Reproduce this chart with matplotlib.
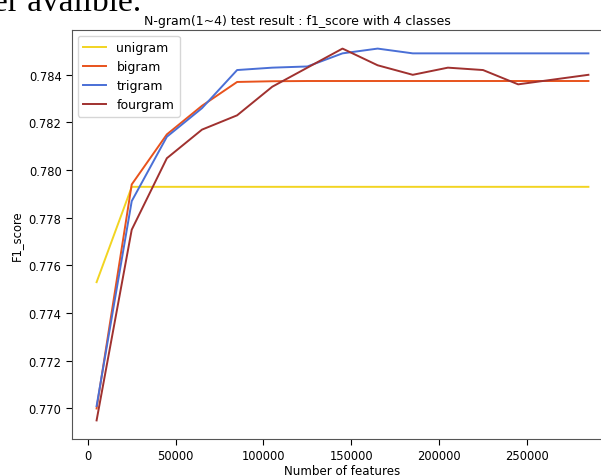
import matplotlib
matplotlib.use("Agg")
import matplotlib.pyplot as plt

features = [5000, 25000, 45000, 65000, 85000, 105000, 125000, 145000,
            165000, 185000, 205000, 225000, 245000, 265000, 285000]
unigram = [0.7753, 0.7793, 0.7793, 0.7793, 0.7793, 0.7793, 0.7793, 0.7793,
           0.7793, 0.7793, 0.7793, 0.7793, 0.7793, 0.7793, 0.7793]
bigram = [0.7700, 0.7794, 0.7815, 0.7827, 0.7837, 0.78373, 0.78374, 0.78374,
          0.78374, 0.78374, 0.78374, 0.78374, 0.78374, 0.78374, 0.78374]
trigram = [0.7701, 0.7787, 0.7814, 0.7826, 0.7842, 0.7843, 0.78435, 0.7849,
           0.7851, 0.7849, 0.7849, 0.7849, 0.7849, 0.7849, 0.7849]
fourgram = [0.7695, 0.7775, 0.7805, 0.7817, 0.7823, 0.7835, 0.7843, 0.7851,
            0.7844, 0.7840, 0.7843, 0.7842, 0.7836, 0.7838, 0.7840]

series = [("unigram", unigram, "#f2d421"),
          ("bigram", bigram, "#e8521c"),
          ("trigram", trigram, "#4a6fd6"),
          ("fourgram", fourgram, "#a0312f")]

fig = plt.figure(figsize=(6.01, 4.77), dpi=100)
ax = fig.add_axes([72/601, 1 - 440/477, (613 - 72)/601, (440 - 31)/477])

for name, vals, col in series:
    ax.plot(features, vals, color=col, lw=1.4, label=name)

fs = 8.3
fig.text(297.7/601, 1 - 25/477, "N-gram(1~4) test result : f1_score with 4 classes",
         fontsize=9.0, ha="center", va="baseline")
ax.set_xlabel("Number of features", fontsize=8.6, labelpad=0.8)
ax.set_ylabel("F1_score", fontsize=fs, labelpad=4)
ax.tick_params(labelsize=fs, length=4, width=0.8, pad=3.5)
ax.set_yticks([0.770, 0.772, 0.774, 0.776, 0.778, 0.780, 0.782, 0.784])
ax.set_xticks([0, 50000, 100000, 150000, 200000, 250000])
for s in ax.spines.values():
    s.set_color("#555555")
ax.legend(loc="upper left", fontsize=9.0, frameon=True, handlelength=1.85,
          borderaxespad=0.45, labelspacing=0.48, borderpad=0.45)

fig.text(-0.012, 1 - 11/477, "er avalible.", family=["Liberation Serif", "DejaVu Serif"],
         fontsize=24, va="baseline", ha="left")

fig.savefig("out.png", dpi=100)
